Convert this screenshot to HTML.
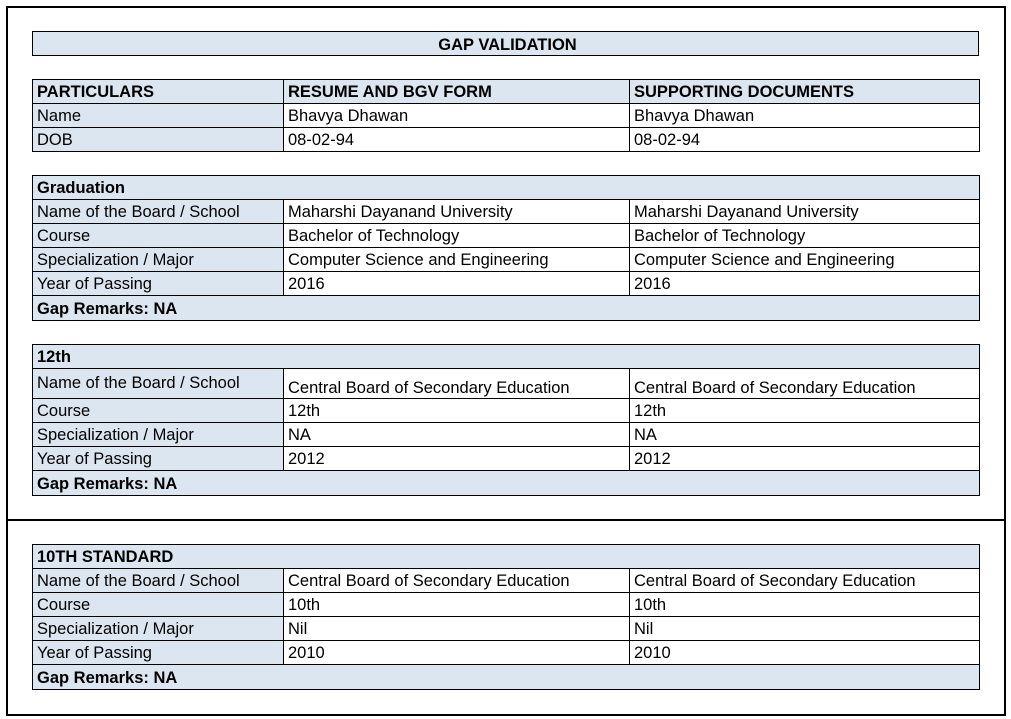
<!DOCTYPE html>
<html><head><meta charset="utf-8"><style>
body{margin:0;width:1011px;height:719px;background:#fff;position:relative;overflow:hidden;font-family:"Liberation Sans",sans-serif;font-size:16.5px;color:#000}
.o{position:absolute;border:2px solid #000;box-sizing:border-box}
.c{position:absolute;box-sizing:border-box;border:1px solid #000;padding:2px 0 0 4px;line-height:22px;white-space:nowrap;overflow:hidden}
.b{background:#dce6f1}
.h{font-weight:bold}
</style></head><body>
<div class="o" style="left:6px;top:6px;width:1000px;height:515px"></div>
<div class="o" style="left:6px;top:519px;width:1000px;height:197px"></div>
<div class="c b h" style="left:32px;top:31px;width:947px;height:25px;text-align:center;line-height:23px">GAP VALIDATION</div>
<div id="t"></div>
<script>
var X=[32,283,629,979],out='';
function cell(x,y,w,h,t,cls,extra){out+='<div class="c '+cls+'" style="left:'+x+'px;top:'+y+'px;width:'+(w+1)+'px;height:'+(h+1)+'px;'+(extra||'')+'">'+t+'</div>';}
function row(y,h,a,b,c,lblcls,datacls,dataExtra){
 cell(X[0],y,X[1]-X[0],h,a,lblcls,'line-height:'+(h-3)+'px');
 cell(X[1],y,X[2]-X[1],h,b,datacls,'line-height:'+(h-3)+'px;'+(dataExtra||''));
 cell(X[2],y,X[3]-X[2],h,c,datacls,'line-height:'+(h-3)+'px;'+(dataExtra||''));}
function full(y,h,t){cell(X[0],y,X[3]-X[0],h,t,'b h','line-height:'+(h-3)+'px');}
row(79,24,'PARTICULARS','RESUME AND BGV FORM','SUPPORTING DOCUMENTS','b h','b h');
row(103,24,'Name','Bhavya Dhawan','Bhavya Dhawan','b','');
row(127,24,'DOB','08-02-94','08-02-94','b','');
full(175,24,'Graduation');
row(199,24,'Name of the Board / School','Maharshi Dayanand University','Maharshi Dayanand University','b','');
row(223,24,'Course','Bachelor of Technology','Bachelor of Technology','b','');
row(247,24,'Specialization / Major','Computer Science and Engineering','Computer Science and Engineering','b','');
row(271,24,'Year of Passing','2016','2016','b','');
full(295,25,'Gap Remarks: NA');
full(344,24,'12th');
cell(X[0],368,X[1]-X[0],30,'Name of the Board / School','b','line-height:20px;padding-top:4px');
cell(X[1],368,X[2]-X[1],30,'Central Board of Secondary Education','','line-height:20px;padding-top:9px');
cell(X[2],368,X[3]-X[2],30,'Central Board of Secondary Education','','line-height:20px;padding-top:9px');
row(398,24,'Course','12th','12th','b','');
row(422,24,'Specialization / Major','NA','NA','b','');
row(446,24,'Year of Passing','2012','2012','b','');
full(470,25,'Gap Remarks: NA');
full(544,24,'10TH STANDARD');
row(568,24,'Name of the Board / School','Central Board of Secondary Education','Central Board of Secondary Education','b','');
row(592,24,'Course','10th','10th','b','');
row(616,24,'Specialization / Major','Nil','Nil','b','');
row(640,24,'Year of Passing','2010','2010','b','');
full(664,25,'Gap Remarks: NA');
document.getElementById('t').innerHTML=out;
</script>
</body></html>
